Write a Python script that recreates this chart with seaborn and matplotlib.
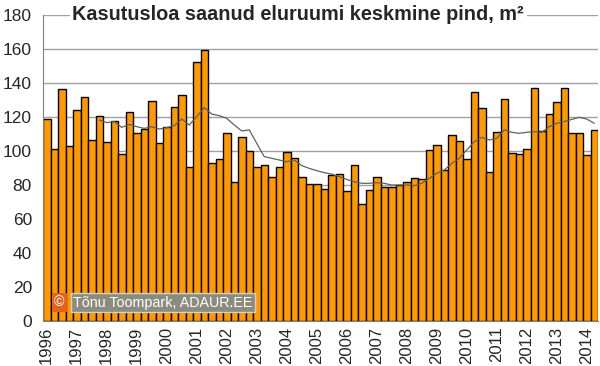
import numpy as np
import pandas as pd
import matplotlib
matplotlib.use("Agg")
import matplotlib.pyplot as plt
import seaborn as sns

# quarterly values, 1996 Q1 .. 2014 Q2
years = list(range(1996, 2015))
area = [118.8, 101.4, 136.7, 103.0, 124.3, 131.6, 106.5, 120.8,
        105.3, 117.8, 98.4, 122.7, 110.4, 113.1, 129.2, 104.5,
        113.9, 126.1, 132.7, 90.4, 152.2, 159.4, 93.1, 95.5,
        110.8, 81.6, 108.0, 99.8, 90.4, 91.8, 84.5, 90.4,
        99.6, 95.7, 84.9, 80.6, 80.6, 77.8, 85.7, 86.5,
        76.3, 91.6, 68.8, 77.1, 84.9, 78.8, 78.6, 79.8,
        81.8, 83.9, 83.3, 100.8, 103.3, 88.8, 109.2, 105.7,
        95.5, 134.9, 125.5, 87.8, 110.9, 130.4, 98.8, 98.0,
        101.0, 137.0, 112.0, 121.8, 128.8, 137.0, 110.8, 110.4,
        97.9, 112.4]
# moving average line, starts at 1997 Q4
trend = [118.2, 116.7, 117.3, 113.9, 115.6, 114.3, 113.3, 114.3,
         112.9, 113.7, 114.9, 118.8, 115.3, 120.2, 125.5, 121.7,
         120.8, 119.2, 115.3, 111.8, 112.4, 104.5, 96.7, 95.7,
         94.7, 93.7, 94.7, 91.4, 89.8, 88.4, 87.3, 86.4,
         84.9, 83.3, 81.9, 81.0, 81.0, 81.4, 81.0, 80.0,
         80.0, 80.0, 79.6, 81.0, 83.9, 86.9, 88.8, 92.7,
         95.7, 100.6, 105.5, 108.0, 106.5, 107.4, 112.4, 111.0,
         110.4, 111.0, 111.4, 111.0, 114.3, 116.3, 117.3, 118.6,
         119.8, 118.8, 116.3]

n = len(area)
quarters = [f"{1996 + i // 4} Q{i % 4 + 1}" for i in range(n)]
df = pd.DataFrame({"quarter": quarters, "area": area})
df_trend = pd.DataFrame({"pos": np.arange(n - len(trend), n), "trend": trend})

sns.set_style("white")
plt.rcParams["font.family"] = ["Liberation Sans", "DejaVu Sans"]

fig = plt.figure(figsize=(6, 3.66), dpi=100)
ax = fig.add_axes([43 / 600, 1 - 321 / 366, 555 / 600, 306 / 366])

sns.barplot(data=df, x="quarter", y="area", color="#FF9900", width=1.0,
            edgecolor="black", linewidth=1.0, saturation=1, ax=ax, zorder=2)
sns.lineplot(data=df_trend, x="pos", y="trend", color="#606060",
             linewidth=0.9, ax=ax, zorder=3)

ax.set_xlim(-0.5, n - 0.5)
ax.set_ylim(0, 180)
ax.set_yticks(range(0, 181, 20))
ax.yaxis.grid(True, color="#A0A0A0", linewidth=1.0, zorder=0)
ax.set_axisbelow(True)

ax.set_xticks([i * 4 for i in range(len(years))])
ax.set_xticklabels([str(y) for y in years], rotation=90, fontsize=12)
ax.set_xticks(np.arange(-0.5, n, 1), minor=True)
ax.tick_params(axis="x", which="major", length=0, pad=4)
ax.tick_params(axis="x", which="minor", length=5, color="#808080", width=1)
ax.tick_params(axis="y", length=5, color="#808080", labelsize=12.5, pad=3)
ax.set_xlabel("")
ax.set_ylabel("")

for side in ["top", "right"]:
    ax.spines[side].set_visible(False)
for side in ["left", "bottom"]:
    ax.spines[side].set_color("#808080")

ax.text(0.46, 1.0, "Kasutusloa saanud eluruumi keskmine pind, m²",
        transform=ax.transAxes, ha="center", va="center", fontsize=14.3,
        fontweight="bold", zorder=5,
        bbox=dict(facecolor="white", edgecolor="none", pad=2))

fig.text(73 / 600, 1 - 302.5 / 366, "Tõnu Toompark, ADAUR.EE", color="white",
         fontsize=10.3, ha="left", va="center", zorder=6,
         bbox=dict(facecolor="#8C8C7E", edgecolor="#D0D0C8", pad=1.5,
                   linewidth=1))
fig.text(54 / 600, 1 - 302.5 / 366, "©", color="white", fontsize=10.3,
         ha="left", va="center", zorder=7,
         bbox=dict(facecolor="#E8601C", edgecolor="none", pad=1.5))

fig.savefig("out.png", dpi=100)
